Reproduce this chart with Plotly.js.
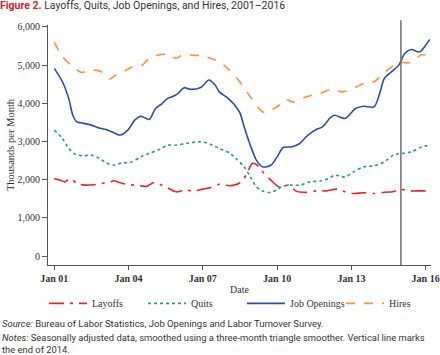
<!DOCTYPE html>
<html>
<head>
<meta charset="utf-8">
<script src="https://cdn.plot.ly/plotly-3.0.1.min.js"></script>
<style>
html,body{margin:0;padding:0;background:#fff;}
#chart{width:440px;height:355px;}
</style>
</head>
<body>
<div id="chart"></div>
<script>
// ---- Data (thousands per month) ----
const seriesNames = ["Layoffs", "Quits", "Job Openings", "Hires"];

const layoffsDates = ["2001-01","2001-04","2001-06","2001-09","2001-12","2002-04","2002-08","2002-12","2003-04","2003-06","2003-09","2003-12","2004-04","2004-08","2004-10","2005-01","2005-04","2005-08","2005-12","2006-04","2006-09","2007-01","2007-05","2007-09","2008-02","2008-07","2008-10","2009-01","2009-03","2009-06","2009-10","2010-02","2010-07","2010-10","2011-03","2011-08","2012-01","2012-06","2012-10","2013-02","2013-07","2013-12","2014-05","2014-09","2015-01","2015-06","2015-11","2016-03"];
const layoffsValues = [2030,1990,1945,2030,1900,1860,1870,1900,1945,1975,1920,1880,1860,1835,1830,1920,1885,1790,1685,1730,1710,1755,1800,1885,1845,1920,2120,2430,2400,2210,1990,1815,1860,1710,1670,1710,1710,1755,1685,1640,1660,1640,1675,1685,1745,1710,1710,1705];

const quitsDates = ["2001-01","2001-05","2001-08","2001-11","2002-03","2002-07","2002-11","2003-02","2003-06","2003-10","2004-02","2004-07","2004-11","2005-04","2005-08","2005-12","2006-05","2006-12","2007-05","2007-09","2008-02","2008-05","2008-09","2008-12","2009-03","2009-06","2009-10","2010-01","2010-04","2010-08","2010-12","2011-05","2011-10","2012-02","2012-05","2012-10","2013-02","2013-07","2013-12","2014-05","2014-10","2015-02","2015-06","2015-11","2016-03"];
const quitsValues = [3300,3080,2820,2670,2630,2645,2560,2445,2385,2445,2455,2600,2690,2795,2905,2905,2950,2995,2925,2820,2705,2560,2340,2080,1815,1705,1670,1745,1835,1860,1860,1945,1970,2035,2120,2075,2205,2340,2365,2470,2665,2690,2730,2860,2905];

const openingsDates = ["2001-01","2001-05","2001-08","2001-10","2001-12","2002-02","2002-07","2002-10","2003-02","2003-05","2003-09","2004-01","2004-04","2004-07","2004-11","2005-02","2005-05","2005-08","2005-11","2006-01","2006-04","2006-07","2006-12","2007-04","2007-07","2007-09","2008-01","2008-04","2008-07","2008-09","2008-12","2009-03","2009-06","2009-10","2010-01","2010-04","2010-08","2010-12","2011-04","2011-08","2011-11","2012-03","2012-05","2012-10","2013-03","2013-07","2013-12","2014-03","2014-05","2014-09","2014-12","2015-03","2015-06","2015-10","2016-01","2016-03"];
const openingsValues = [4915,4565,4130,3690,3515,3490,3430,3370,3315,3255,3170,3320,3560,3660,3580,3865,3980,4130,4190,4260,4410,4365,4415,4610,4480,4300,4145,3980,3750,3385,2905,2515,2340,2380,2600,2845,2860,2950,3170,3315,3385,3630,3690,3605,3865,3925,3910,4300,4650,4850,5000,5310,5410,5345,5520,5675];

const hiresDates = ["2001-01","2001-05","2001-10","2002-02","2002-04","2002-07","2002-11","2003-02","2003-04","2003-07","2003-11","2004-03","2004-07","2004-11","2005-03","2005-08","2005-12","2006-04","2006-08","2007-01","2007-05","2007-09","2008-01","2008-05","2008-07","2008-12","2009-05","2009-07","2009-11","2010-02","2010-05","2010-09","2011-01","2011-05","2011-10","2012-03","2012-09","2013-03","2013-08","2013-12","2014-05","2014-11","2015-02","2015-05","2015-08","2015-11","2016-03"];
const hiresValues = [5600,5220,4960,4810,4825,4870,4845,4740,4640,4740,4845,4960,4975,5175,5260,5290,5180,5290,5260,5245,5175,5090,4915,4690,4560,4170,3820,3760,3850,3950,4105,4030,4130,4200,4260,4360,4300,4420,4545,4565,4800,5045,5070,5060,5150,5270,5240];

const xTickVals = ["2001-01-01","2004-01-01","2007-01-01","2010-01-01","2013-01-01","2016-01-01"];
const xTickText = ["Jan 01","Jan 04","Jan 07","Jan 10","Jan 13","Jan 16"];
const yTickVals = [0,1000,2000,3000,4000,5000,6000];
const yTickText = ["0","1,000","2,000","3,000","4,000","5,000","6,000"];
const markerDate = "2015-01-01";

const colors = ["#e4262c", "#1f9e80", "#2f4ea3", "#f8923c"];
const dashes = ["longdashdot", "dot", "solid", "dash"];
const xs = [layoffsDates, quitsDates, openingsDates, hiresDates];
const ys = [layoffsValues, quitsValues, openingsValues, hiresValues];

const serif = "Liberation Serif, Times New Roman, serif";
const sans = "Roboto, Lato, sans-serif";

const traces = seriesNames.map((n, i) => ({
  type: "scatter",
  mode: "lines",
  name: n,
  x: xs[i],
  y: ys[i],
  line: {color: colors[i], width: 1.6, dash: dashes[i], shape: "spline", smoothing: 0.8},
  hoverinfo: "x+y+name"
}));

const layout = {
  width: 440,
  height: 355,
  margin: {l: 48, r: 9, t: 25, b: 90},
  paper_bgcolor: "#ffffff",
  plot_bgcolor: "#ffffff",
  showlegend: true,
  title: {
    text: "<b><span style='color:#d2232a'>Figure 2.</span></b> Layoffs, Quits, Job Openings, and Hires, 2001–2016",
    x: 0, xref: "container", xanchor: "left",
    y: 0.986, yref: "container", yanchor: "middle",
    font: {family: sans, size: 10.5, color: "#333333"}
  },
  xaxis: {
    type: "date",
    range: ["2000-09-30", "2016-03-20"],
    tickmode: "array",
    tickvals: xTickVals,
    ticktext: xTickText,
    ticks: "outside", ticklen: 4, tickcolor: "#555", tickwidth: 1,
    showline: true, linecolor: "#555", linewidth: 1,
    showgrid: false, zeroline: false,
    tickfont: {family: serif, size: 10, color: "#333", weight: "bold"},
    title: {text: "Date", font: {family: serif, size: 10, color: "#333"}, standoff: 2}
  },
  yaxis: {
    range: [-230, 6050],
    tickmode: "array",
    tickvals: yTickVals,
    ticktext: yTickText,
    ticks: "outside", ticklen: 5, tickcolor: "#555", tickwidth: 1,
    showline: true, linecolor: "#555", linewidth: 1,
    showgrid: false, zeroline: false,
    tickfont: {family: serif, size: 10, color: "#333"},
    title: {text: "Thousands per Month", font: {family: serif, size: 10.5, color: "#333"}}
  },
  legend: {
    orientation: "h",
    x: -0.005, xanchor: "left",
    y: -0.16, yanchor: "middle",
    font: {family: serif, size: 10, color: "#333"},
    itemwidth: 38,
    entrywidth: 46,
    entrywidthmode: "pixels",
    bgcolor: "rgba(0,0,0,0)"
  },
  shapes: [{
    type: "line", xref: "x", yref: "paper",
    x0: markerDate, x1: markerDate, y0: 0, y1: 1.02,
    line: {color: "#6e6e6e", width: 1.5}
  }],
  annotations: [
    {xref: "paper", yref: "paper", x: -0.1253, y: -0.243, xanchor: "left", yanchor: "middle", showarrow: false, align: "left",
     text: "<i>Source:</i> Bureau of Labor Statistics, Job Openings and Labor Turnover Survey.",
     font: {family: sans, size: 9.5, color: "#333"}},
    {xref: "paper", yref: "paper", x: -0.1253, y: -0.272, xanchor: "left", yanchor: "top", showarrow: false, align: "left",
     text: "<i>Notes:</i> Seasonally adjusted data, smoothed using a three-month triangle smoother. Vertical line marks<br>the end of 2014.",
     font: {family: sans, size: 9.4, color: "#333"}}
  ]
};

Plotly.newPlot("chart", traces, layout, {displayModeBar: false, staticPlot: true});
</script>
</body>
</html>
